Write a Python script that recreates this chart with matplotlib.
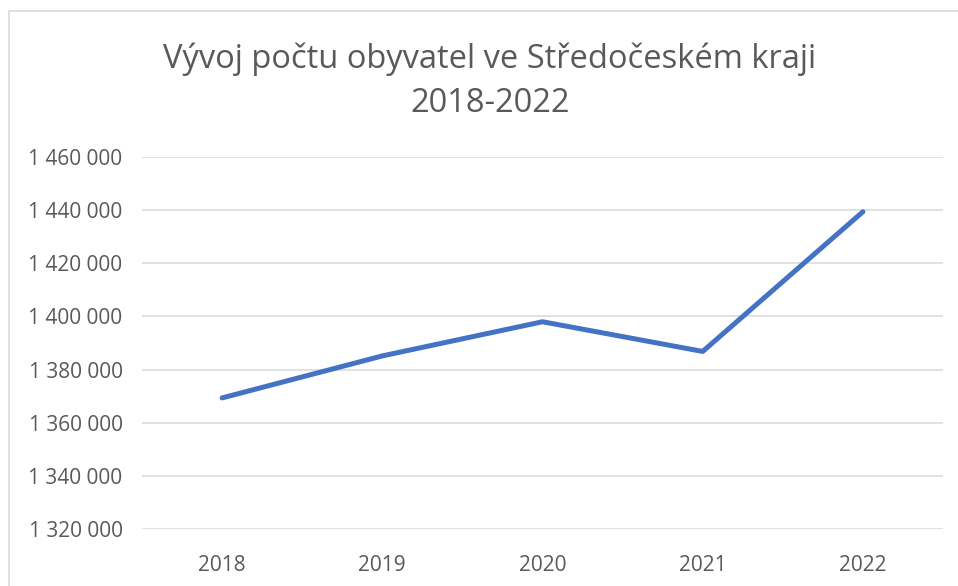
import matplotlib.pyplot as plt
from matplotlib.patches import Rectangle
from matplotlib.ticker import FuncFormatter

plt.rcParams['font.family'] = ['Open Sans', 'DejaVu Sans']

years = ['2018', '2019', '2020', '2021', '2022']
population = [1369332, 1385141, 1397997, 1386824, 1439391]
y_ticks = [1320000, 1340000, 1360000, 1380000, 1400000, 1420000, 1440000, 1460000]

W, H = 958, 586
fig = plt.figure(figsize=(W / 100, H / 100), dpi=100)

# chart border (cropped at right and bottom in the reference)
fig.patches.append(Rectangle((9 / W, -0.1), 1.2, 1.1 - 11 / H, transform=fig.transFigure,
                             fill=False, edgecolor='#d9d9d9', linewidth=1.2))

ax = fig.add_axes([142 / W, (H - 529) / H, (943 - 142) / W, (529 - 157) / H])
ax.plot(range(len(years)), population, color='#4472C4', linewidth=3.6,
        solid_capstyle='round', solid_joinstyle='round', zorder=3)

ax.set_xlim(-0.5, len(years) - 0.5)
ax.set_ylim(y_ticks[0], y_ticks[-1])
ax.set_yticks(y_ticks)
ax.yaxis.set_major_formatter(FuncFormatter(lambda v, p: f'{int(v):,}'.replace(',', ' ')))
ax.set_xticks(range(len(years)))
ax.set_xticklabels(years)
ax.grid(axis='y', color='#d9d9d9', linewidth=1.1)
ax.set_axisbelow(True)
for s in ax.spines.values():
    s.set_visible(False)
ax.tick_params(axis='y', length=0, pad=14, labelsize=15, labelcolor='#595959')
ax.tick_params(axis='x', length=0, pad=19, labelsize=15, labelcolor='#595959')

fig.text(490 / W, 1 - 59 / H, 'Vývoj počtu obyvatel ve Středočeském kraji',
         ha='center', va='center', fontsize=23.5, color='#595959')
fig.text(490 / W, 1 - 103 / H, '2018-2022',
         ha='center', va='center', fontsize=23.5, color='#595959')

fig.savefig('out.png', dpi=100)
